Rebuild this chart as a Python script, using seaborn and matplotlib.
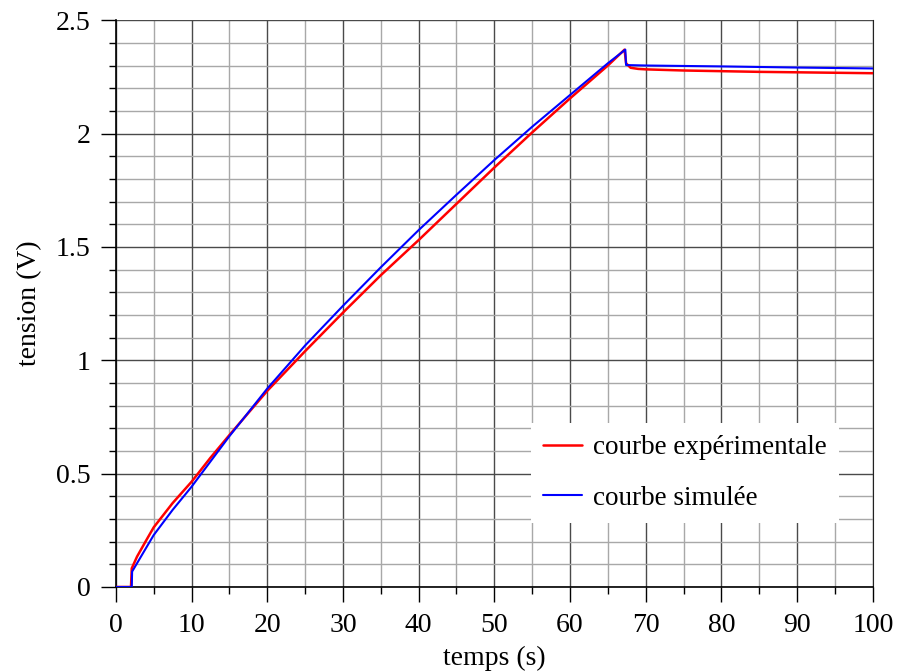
import matplotlib
matplotlib.use("Agg")
import matplotlib.pyplot as plt
import seaborn as sns
import pandas as pd
from matplotlib.ticker import MultipleLocator

t_exp = [0, 2.0, 2.1, 2.8, 4, 5, 7.5, 10, 12.5, 15, 20, 25, 30, 35, 40, 45, 50, 55, 60, 65,
         67.2, 67.4, 68, 69, 70, 75, 80, 85, 90, 95, 100]
u_exp = [0, 0, 0.082, 0.134, 0.205, 0.263, 0.37, 0.464, 0.57, 0.67, 0.865, 1.04, 1.21, 1.375,
         1.53, 1.69, 1.85, 2.005, 2.155, 2.30, 2.37, 2.31, 2.29, 2.285, 2.283, 2.278, 2.275,
         2.272, 2.27, 2.268, 2.266]

# simulated curve
t_sim = [0, 2.1, 2.15, 5, 7.5, 10, 15, 20, 25, 30, 35, 40, 45, 50, 55, 60, 65, 67.3, 67.4,
         70, 80, 90, 100]
u_sim = [0, 0, 0.068, 0.229, 0.34, 0.442, 0.665, 0.875, 1.065, 1.24, 1.41, 1.574, 1.73,
         1.883, 2.03, 2.17, 2.31, 2.37, 2.302, 2.30, 2.296, 2.291, 2.287]

df_exp = pd.DataFrame({"t": t_exp, "u": u_exp})
df_sim = pd.DataFrame({"t": t_sim, "u": u_sim})

sns.set_style("white")
plt.rcParams["font.family"] = ["Liberation Serif", "DejaVu Serif"]
plt.rcParams["text.color"] = "black"
plt.rcParams["axes.labelcolor"] = "black"
plt.rcParams["xtick.color"] = "black"
plt.rcParams["ytick.color"] = "black"

fig = plt.figure(figsize=(8.98, 6.72), dpi=100)
ax = fig.add_axes([0.129, 0.1265, 0.843, 0.8435])

sns.lineplot(data=df_exp, x="t", y="u", color="#ff0000", lw=1.8, ax=ax,
             label="courbe expérimentale", zorder=3)
sns.lineplot(data=df_sim, x="t", y="u", color="#0000ff", lw=1.5, ax=ax,
             label="courbe simulée", zorder=4)

ax.set_xlim(0, 100)
ax.set_ylim(0, 2.5)
ax.xaxis.set_major_locator(MultipleLocator(10))
ax.xaxis.set_minor_locator(MultipleLocator(5))
ax.yaxis.set_minor_locator(MultipleLocator(0.1))
ax.set_yticks([0, 0.5, 1, 1.5, 2, 2.5])
ax.set_yticklabels(["0", "0.5", "1", "1.5", "2", "2.5"])

ax.grid(which="major", color="#4a4a4a", lw=1.0)
ax.grid(which="minor", color="#a8a8a8", lw=1.0)
ax.set_axisbelow(True)

ax.spines["top"].set_visible(False)
ax.spines["right"].set_color("#222222")
for s in ["left", "bottom"]:
    ax.spines[s].set_color("black")
    ax.spines[s].set_linewidth(1.2)

ax.tick_params(which="major", direction="out", length=11, width=1, labelsize=20,
               bottom=True, left=True)
ax.tick_params(which="minor", direction="out", length=5, width=1,
               bottom=True, left=True)
ax.tick_params(axis="x", which="major", pad=8)
ax.tick_params(axis="y", which="major", pad=7)

ax.set_xlabel("temps (s)", fontsize=20)
ax.xaxis.set_label_coords(0.5, -0.104)
ax.set_ylabel("tension (V)", fontsize=20, labelpad=10)

leg = ax.legend(loc="lower right", bbox_to_anchor=(0.955, 0.113), fontsize=19.5,
                frameon=True, fancybox=False, edgecolor="white", framealpha=1,
                handlelength=1.45, handletextpad=0.4, labelspacing=0.95,
                borderpad=0.45, borderaxespad=0)
leg.get_frame().set_linewidth(0)

fig.savefig("out.png", dpi=100)
